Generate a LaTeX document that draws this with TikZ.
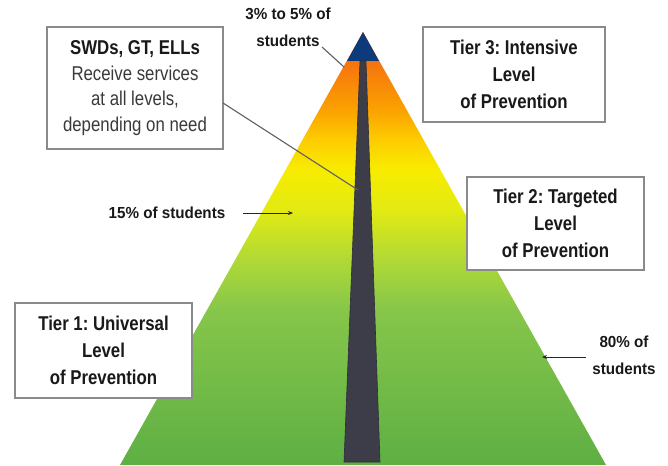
\documentclass[tikz,border=0pt]{standalone}
\usepackage{fontspec}
\setmainfont{Liberation Sans}[FakeStretch=0.84]
\newfontfamily\lblfont{Liberation Sans}[FakeStretch=0.95]
\usetikzlibrary{arrows.meta}
\frenchspacing
\definecolor{cG5}{HTML}{5EAF44}
\definecolor{cG4}{HTML}{86C64A}
\definecolor{cG3}{HTML}{B0D936}
\definecolor{cY2}{HTML}{E2EA12}
\definecolor{cY}{HTML}{F7EC00}
\definecolor{cAm}{HTML}{FDD000}
\definecolor{cOr2}{HTML}{FBA200}
\definecolor{cOr}{HTML}{F5730F}
\definecolor{cBlue}{HTML}{0D3A7A}
\definecolor{cBar}{HTML}{3C3D49}
\definecolor{cBarEdge}{HTML}{2C2D36}
\definecolor{cBox}{HTML}{8A8A8A}
\definecolor{cBody}{HTML}{3A3A3A}
\definecolor{cLine}{HTML}{606060}
\pgfdeclareverticalshading{pyrshade}{100bp}{color(0bp)=(cG5); color(25bp)=(cG5); color(42.9bp)=(cG4); color(48.7bp)=(cG3); color(54.4bp)=(cY2); color(59.1bp)=(cY); color(62.2bp)=(cAm); color(66bp)=(cOr2); color(71.6bp)=(cOr); color(100bp)=(cOr)}
\begin{document}
\begin{tikzpicture}[x=1pt,y=-1pt,
  tierbox/.style={draw=cBox, line width=1.3pt, fill=white, align=center,
    inner sep=0pt, font=\fontsize{20}{27}\selectfont\bfseries, text=black!90},
  lbl/.style={align=center, inner sep=0pt, font=\lblfont\fontsize{16}{27}\selectfont\bfseries, text=black!90},
  conn/.style={draw=cLine, line width=1.1pt},
  arr/.style={draw=black!85, line width=1pt, -{Stealth[length=5pt,width=4pt]}}]
\useasboundingbox (0,0) rectangle (668,465);
\fill[white] (0,0) rectangle (668,465);
% pyramid
\shade[shading=pyrshade] (363,32) -- (120,465) -- (606,465) -- cycle;
\fill[cBlue] (363,32) -- (347,61) -- (379,61) -- cycle;
\fill[cBar, draw=cBarEdge, line width=0.6pt] (360,61) -- (366,61) -- (380,462) -- (344,462) -- cycle;
% boxes
\node[tierbox, minimum width=182pt, minimum height=95pt] (tier3) at (514,74.5) {Tier 3: Intensive\\Level\\of Prevention};
\node[tierbox, minimum width=177pt, minimum height=93pt] (tier2) at (555.5,223.5) {Tier 2: Targeted\\Level\\of Prevention};
\node[tierbox, minimum width=177pt, minimum height=95pt] (tier1) at (103.5,350.5) {Tier 1: Universal\\Level\\of Prevention};
\node[tierbox, minimum width=176pt, minimum height=122pt, font=\fontsize{20}{25.7}\selectfont] (swd) at (135,88)
  {\textbf{SWDs, GT, ELLs}\\\color{cBody}Receive services\\\color{cBody}at all levels,\\\color{cBody}depending on need};
% labels
\node[lbl] (top) at (288,27) {3\% to 5\% of\\students};
\node[lbl] (fifteen) at (167,213) {15\% of students};
\node[lbl] (eighty) at (624,355) {80\% of\\students};
% connector end points
\coordinate (swdstart) at (223,103);
\coordinate (swdend) at (358,190);
\coordinate (topstart) at (322,47);
\coordinate (topend) at (344,67);
\coordinate (fstart) at (243,213);
\coordinate (fend) at (293,213);
\coordinate (estart) at (586,357);
\coordinate (eend) at (542,357);
\draw[conn] (swdstart) -- (swdend);
\draw[conn] (topstart) -- (topend);
\draw[arr] (fstart) -- (fend);
\draw[arr] (estart) -- (eend);
\end{tikzpicture}
\end{document}
